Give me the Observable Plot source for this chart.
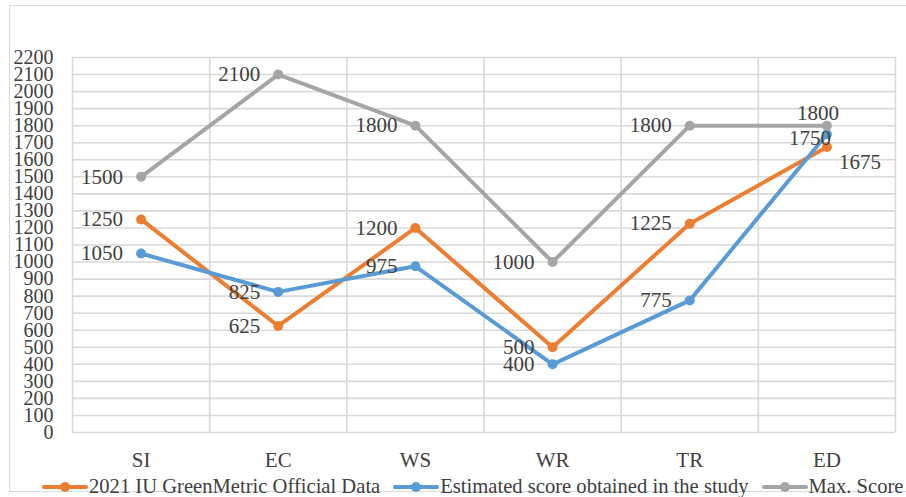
<!DOCTYPE html>
<html>
<head>
<meta charset="utf-8">
<script src="https://cdn.jsdelivr.net/npm/d3@7"></script>
<script src="https://cdn.jsdelivr.net/npm/@observablehq/plot@0.6"></script>
<style>
  html, body { margin: 0; padding: 0; background: #fff; }
  #wrap { position: relative; width: 906px; height: 497px; overflow: hidden; font-family: "Liberation Serif", "Times New Roman", serif; color: #404040; }
  #border { position: absolute; left: 9px; top: 5px; width: 920px; height: 487px; border: 1.5px solid #d9d9d9; box-sizing: border-box; }
  #chart { position: absolute; left: 0; top: 0; }
  #legend { position: absolute; left: 42px; top: 476px; height: 21px; display: flex; align-items: center; font-size: 20.6px; white-space: nowrap; line-height: 21px; }
  .item { display: flex; align-items: center; }
  .item svg { display: block; margin-right: 1px; }
</style>
</head>
<body>
<div id="wrap">
  <div id="border"></div>
  <div id="chart"></div>
  <div id="legend"></div>
</div>
<script>
const categories = ["SI", "EC", "WS", "WR", "TR", "ED"];
const officialData = [1250, 625, 1200, 500, 1225, 1675];
const estimatedScore = [1050, 825, 975, 400, 775, 1750];
const maxScore = [1500, 2100, 1800, 1000, 1800, 1800];
const seriesNames = ["2021 IU GreenMetric Official Data", "Estimated score obtained in the study", "Max. Score"];
const seriesColors = ["#ED7D31", "#5B9BD5", "#A5A5A5"];
const yTicks = [0, 100, 200, 300, 400, 500, 600, 700, 800, 900, 1000, 1100, 1200, 1300, 1400, 1500, 1600, 1700, 1800, 1900, 2000, 2100, 2200];

const seriesValues = [officialData, estimatedScore, maxScore];
const rows = seriesValues.flatMap((vals, s) =>
  vals.map((v, i) => ({ series: seriesNames[s], s, i, cat: categories[i], value: v }))
);
const last = categories.length - 1;
const xIdx = categories.map((_, i) => i);
const xBounds = d3.range(-0.5, categories.length, 1);

const textColor = "#404040";
const fs = 21;
const tickFs = 20;

const plot = Plot.plot({
  width: 906,
  height: 474,
  marginLeft: 72,
  marginRight: 11,
  marginTop: 57,
  marginBottom: 42,
  style: { fontFamily: "'Liberation Serif', 'Times New Roman', serif", fontSize: "21px", color: textColor, background: "transparent", overflow: "visible" },
  x: { type: "linear", domain: [-0.5, categories.length - 0.5] },
  y: { domain: [0, 2200] },
  color: { domain: seriesNames, range: seriesColors },
  marks: [
    Plot.gridY(yTicks, { stroke: "#d9d9d9", strokeOpacity: 1, strokeWidth: 1.6 }),
    Plot.gridX(xBounds, { stroke: "#d9d9d9", strokeOpacity: 1, strokeWidth: 1.6 }),
    Plot.axisY(yTicks, { tickSize: 0, tickPadding: 19, fontSize: tickFs, fill: textColor, label: null, tickFormat: d => String(d) }),
    Plot.axisX(xIdx, { tickSize: 0, tickPadding: 20, fontSize: fs, fill: textColor, label: null, tickFormat: i => categories[i] }),
    Plot.line(rows, { x: "i", y: "value", z: "series", stroke: "series", strokeWidth: 4, strokeLinejoin: "round", strokeLinecap: "round" }),
    Plot.dot(rows, { x: "i", y: "value", fill: "series", r: 5, stroke: null }),
    Plot.text(rows.filter(d => d.i < last), { x: "i", y: "value", text: d => String(d.value), textAnchor: "end", dx: -18, fontSize: fs, fill: textColor }),
    Plot.text(rows.filter(d => d.i === last && d.s === 2), { x: "i", y: "value", text: d => String(d.value), textAnchor: "middle", dx: -9, dy: -12, fontSize: fs, fill: textColor }),
    Plot.text(rows.filter(d => d.i === last && d.s === 1), { x: "i", y: "value", text: d => String(d.value), textAnchor: "end", dx: 4, dy: 4, fontSize: fs, fill: textColor }),
    Plot.text(rows.filter(d => d.i === last && d.s === 0), { x: "i", y: "value", text: d => String(d.value), textAnchor: "start", dx: 12, dy: 15, fontSize: fs, fill: textColor })
  ]
});
document.getElementById("chart").appendChild(plot);

const legend = document.getElementById("legend");
seriesNames.forEach((name, k) => {
  const item = document.createElement("div");
  item.className = "item";
  if (k > 0) item.style.marginLeft = "13px";
  item.innerHTML = `<svg width="46" height="14"><line x1="2" y1="7" x2="44" y2="7" stroke="${seriesColors[k]}" stroke-width="4" stroke-linecap="round"/><circle cx="23" cy="7" r="5" fill="${seriesColors[k]}"/></svg><span>${name}</span>`;
  legend.appendChild(item);
});
</script>
</body>
</html>
